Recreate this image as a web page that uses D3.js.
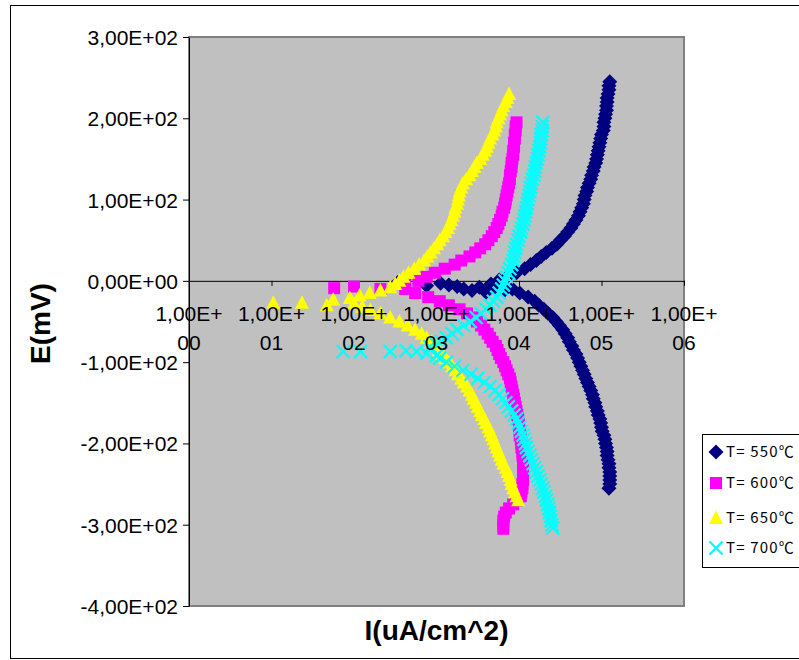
<!DOCTYPE html>
<html>
<head>
<meta charset="utf-8">
<script src="https://cdn.jsdelivr.net/npm/d3@7"></script>
<style>
  body { margin: 0; background: #fff; }
  svg { display: block; }
</style>
</head>
<body>
<svg id="chart" width="799" height="660"></svg>
<script>
// Polarization curves, potential E (mV) vs current density I (uA/cm^2)
const seriesNames = ["T= 550\u2103", "T= 600\u2103", "T= 650\u2103", "T= 700\u2103"];
const yTicks = [-400, -300, -200, -100, 0, 100, 200, 300];
const xTicks = [1, 10, 100, 1e3, 1e4, 1e5, 1e6];

// [E (mV), I (uA/cm^2)]
const points550 = [
  [-2,339],[-6,759],[-3,1122],[-5,1413],[-7,1778],[-10,2138],[-12,2692],[-8,3311],[-14,3981],
  [-4,4571],[-9,5248],[1,5754],[-11,6761],[5,7244],
  [10,9.33e3],[15,1.17e4],[20,1.38e4],[25,1.62e4],[30,1.86e4],[35,2.14e4],[40,2.51e4],[45,2.88e4],
  [50,3.16e4],[55,3.55e4],[60,3.89e4],[65,4.27e4],[70,4.57e4],[75,4.90e4],[80,5.25e4],[85,5.50e4],
  [90,5.75e4],[95,6.03e4],[100,6.17e4],[105,6.31e4],[110,6.61e4],[115,6.76e4],[120,7.08e4],
  [125,7.41e4],[130,7.59e4],[135,7.94e4],[140,8.13e4],[145,8.51e4],[150,8.71e4],[155,8.91e4],
  [160,9.12e4],[165,9.33e4],[170,9.55e4],[175,9.77e4],[180,1.00e5],[185,1.05e5],[190,1.07e5],
  [195,1.07e5],[200,1.10e5],[205,1.12e5],[210,1.15e5],[215,1.15e5],[220,1.17e5],[225,1.17e5],
  [230,1.20e5],[235,1.23e5],[240,1.23e5],[245,1.26e5],
  [-10,8.32e3],[-15,1.02e4],[-20,1.29e4],[-25,1.55e4],[-30,1.74e4],[-35,2.00e4],[-40,2.24e4],
  [-45,2.57e4],[-50,2.82e4],[-55,3.09e4],[-60,3.39e4],[-65,3.63e4],[-70,3.89e4],[-75,4.07e4],
  [-80,4.37e4],[-85,4.57e4],[-90,4.90e4],[-95,5.13e4],[-100,5.37e4],[-105,5.62e4],[-110,5.89e4],
  [-115,6.17e4],[-120,6.46e4],[-125,6.76e4],[-130,7.08e4],[-135,7.41e4],[-140,7.76e4],
  [-145,7.94e4],[-150,8.32e4],[-155,8.51e4],[-160,8.91e4],[-165,9.12e4],[-170,9.55e4],
  [-175,9.77e4],[-180,1.00e5],[-185,1.02e5],[-190,1.07e5],[-195,1.10e5],[-200,1.12e5],
  [-205,1.15e5],[-210,1.17e5],[-215,1.17e5],[-220,1.20e5],[-225,1.23e5],[-230,1.23e5],
  [-235,1.26e5],[-240,1.26e5],[-245,1.26e5],[-250,1.26e5],[-255,1.23e5]
];

const points600 = [
  [-9,57.5],[-7,100],[-10,209],
  [-5,417],[0,603],[5,759],[10,955],[15,1259],[20,1660],[25,1995],[30,2512],[35,2951],[40,3388],
  [45,3890],[50,4266],[55,4677],[60,5012],[65,5370],[70,5623],[75,5888],[80,6166],[85,6310],
  [90,6607],[95,6761],[100,6918],[105,7079],[110,7244],[115,7413],[120,7586],[125,7762],
  [130,7762],[135,7943],[140,8128],[145,8128],[150,8318],[155,8511],[160,8511],[165,8710],
  [170,8710],[175,8913],[180,8913],[185,9120],[190,9120],[195,9333],
  [-10,417],[-15,550],[-20,794],[-25,1096],[-30,1413],[-35,1905],[-40,2344],[-45,2754],
  [-50,3090],[-55,3467],[-60,3802],[-65,4169],[-70,4467],[-75,4786],[-80,5248],[-85,5495],
  [-90,5754],[-95,6026],[-100,6457],[-105,6761],[-110,7079],[-115,7413],[-120,7762],
  [-125,7943],[-130,8128],[-135,8318],[-140,8511],[-145,8710],[-150,8913],[-155,9120],
  [-160,9333],[-165,9550],[-170,9772],[-175,1.00e4],[-180,1.00e4],[-185,1.02e4],[-190,1.02e4],
  [-195,1.05e4],[-200,1.07e4],[-205,1.07e4],[-210,1.10e4],[-215,1.10e4],[-220,1.12e4],
  [-225,1.12e4],[-230,1.12e4],[-235,1.12e4],[-240,1.12e4],[-245,1.12e4],[-250,1.10e4],
  [-255,1.10e4],[-260,1.07e4],[-265,1.05e4],[-270,9550],[-275,8511],[-280,7586],[-285,6918],
  [-290,6607],[-295,6457],[-300,6457],[-305,6457]
];

const points650 = [
  [-27,10.5],[-27,23.4],[-30,46.8],
  [-23,56],[-21,89],[-18,117],[-15,155],[-12,209],[-8,275],[-4,316],[0,355],[5,398],[10,457],
  [15,537],[20,617],[25,708],[30,776],[35,851],[40,933],[45,1023],[50,1096],[55,1202],
  [60,1288],[65,1380],[70,1445],[75,1514],[80,1585],[85,1660],[90,1698],[95,1778],[100,1820],
  [105,1862],[110,1905],[115,1995],[120,2089],[125,2291],[130,2512],[135,2692],[140,2884],
  [145,3090],[150,3388],[155,3631],[160,3890],[165,4074],[170,4266],[175,4467],[180,4786],
  [185,5012],[190,5248],[195,5370],[200,5623],[205,5888],[210,6166],[215,6457],[220,6918],
  [225,7244],[230,7586],
  [-28,100],[-32,126],[-36,158],[-40,209],[-45,275],[-50,355],[-55,447],[-60,550],[-65,661],
  [-70,759],[-75,871],[-80,977],[-85,1072],[-90,1175],[-95,1288],[-100,1413],[-105,1549],
  [-110,1698],[-115,1820],[-120,1995],[-125,2138],[-130,2344],[-135,2512],[-140,2692],
  [-145,2818],[-150,3020],[-155,3162],[-160,3388],[-165,3548],[-170,3802],[-175,3981],
  [-180,4266],[-185,4467],[-190,4677],[-195,4898],[-200,5129],[-205,5370],[-210,5623],
  [-215,5888],[-220,6166],[-225,6457],[-230,6918],[-235,7244],[-240,7586],[-245,7943],
  [-250,8128],[-255,8511],[-260,8913],[-265,9333],[-270,9772]
];

const points700 = [
  [-87,74],[-87,120],[-87,275],[-86,427],[-87,575],[-89,759],[-92,1000],
  [-81,832],[-78,1000],[-75,1148],[-70,1318],[-65,1549],[-60,1778],[-55,2138],[-50,2570],
  [-45,3020],[-40,3467],[-35,3981],[-30,4467],[-25,4898],[-20,5370],[-15,5754],[-10,6166],
  [-5,6457],[0,6761],[5,7079],[10,7413],[15,7762],[20,8128],[25,8511],[30,8710],[35,8913],
  [40,9120],[45,9333],[50,9772],[55,1.00e4],[60,1.05e4],[65,1.07e4],[70,1.12e4],[75,1.15e4],
  [80,1.17e4],[85,1.20e4],[90,1.23e4],[95,1.26e4],[100,1.29e4],[105,1.32e4],[110,1.35e4],
  [115,1.38e4],[120,1.41e4],[125,1.45e4],[130,1.51e4],[135,1.55e4],[140,1.58e4],[145,1.62e4],
  [150,1.66e4],[155,1.70e4],[160,1.74e4],[165,1.78e4],[170,1.82e4],[175,1.82e4],[180,1.86e4],
  [185,1.91e4],[190,1.91e4],[195,1.95e4],
  [-95,1096],[-100,1318],[-105,1660],[-110,2089],[-115,2630],[-120,3162],[-125,3802],
  [-130,4467],[-135,5129],[-140,5754],[-145,6310],[-150,6918],[-155,7413],[-160,8128],
  [-165,8710],[-170,9333],[-175,9772],[-180,1.02e4],[-185,1.07e4],[-190,1.12e4],[-195,1.15e4],
  [-200,1.20e4],[-205,1.23e4],[-210,1.29e4],[-215,1.35e4],[-220,1.41e4],[-225,1.48e4],
  [-230,1.55e4],[-235,1.62e4],[-240,1.70e4],[-245,1.78e4],[-250,1.86e4],[-255,1.95e4],
  [-260,2.00e4],[-265,2.09e4],[-270,2.14e4],[-275,2.24e4],[-280,2.29e4],[-285,2.34e4],
  [-290,2.40e4],[-295,2.45e4],[-300,2.51e4],[-304,2.57e4]
];

const allSeries = [points550, points600, points650, points700];
const colors = ["#000080", "#ff00ff", "#ffff00", "#00ffff"];
const shapes = ["diamond", "square", "triangle", "cross"];

const plot = { left: 189, top: 37, right: 684, bottom: 606 };
const svg = d3.select("#chart");

const x = d3.scaleLog().domain([1, 1e6]).range([plot.left, plot.right]);
const y = d3.scaleLinear().domain([-400, 300]).range([plot.bottom, plot.top]);

// "3,00E+02" style scientific labels
function sci(v) {
  const [m, e] = v.toExponential(2).split("e");
  const sign = e[0] === "-" ? "-" : "+";
  const n = String(Math.abs(+e)).padStart(2, "0");
  return m.replace(".", ",") + "E" + sign + n;
}

// outer chart frame
svg.append("rect")
  .attr("x", 10.5).attr("y", 5.5).attr("width", 820).attr("height", 653)
  .attr("fill", "#fff").attr("stroke", "#000").attr("stroke-width", 1);

// plot area
svg.append("rect")
  .attr("x", plot.left).attr("y", plot.top)
  .attr("width", plot.right - plot.left).attr("height", plot.bottom - plot.top)
  .attr("fill", "#c0c0c0").attr("stroke", "#808080").attr("stroke-width", 2);

// y axis
const yAxis = d3.axisLeft(y).tickValues(yTicks).tickSize(6).tickSizeOuter(0).tickFormat(sci);
const gy = svg.append("g").attr("transform", `translate(${plot.left},0)`).call(yAxis);
gy.select(".domain").attr("stroke", "#000");
gy.selectAll(".tick line").attr("stroke", "#000");
gy.selectAll(".tick text")
  .attr("font-family", "'Liberation Sans', Arial, sans-serif")
  .attr("font-size", 21).attr("fill", "#000").attr("x", -11).attr("dy", "0.36em");

// x axis line at E = 0
const xAxis = d3.axisBottom(x).tickValues(xTicks).tickSize(5).tickSizeOuter(0).tickFormat("");
const gx = svg.append("g").attr("transform", `translate(0,${y(0)})`).call(xAxis);
gx.select(".domain").attr("stroke", "#000");
gx.selectAll(".tick line").attr("stroke", "#000");

// markers
svg.append("clipPath").attr("id", "plotClip")
  .append("rect").attr("x", plot.left).attr("y", plot.top)
  .attr("width", plot.right - plot.left).attr("height", plot.bottom - plot.top);

function markerPath(shape) {
  switch (shape) {
    case "diamond": return "M0,-7.5L7.5,0L0,7.5L-7.5,0Z";
    case "square": return "M-6,-6H6V6H-6Z";
    case "triangle": return "M0,-7.5L7,6L-7,6Z";
    default: return "M-6.5,-6.5L6.5,6.5M-6.5,6.5L6.5,-6.5";
  }
}
function styleMarker(sel, i) {
  if (shapes[i] === "cross") {
    sel.attr("fill", "none").attr("stroke", colors[i]).attr("stroke-width", 2.2);
  } else {
    sel.attr("fill", colors[i]).attr("stroke", "none");
  }
}

const gMarks = svg.append("g").attr("clip-path", "url(#plotClip)");
allSeries.forEach((pts, i) => {
  gMarks.append("g").selectAll("path").data(pts).join("path")
    .attr("d", markerPath(shapes[i]))
    .attr("transform", d => `translate(${x(d[1])},${y(d[0])})`)
    .call(styleMarker, i);
});

// x tick labels, split over two lines
const xl = svg.append("g")
  .attr("font-family", "'Liberation Sans', Arial, sans-serif")
  .attr("font-size", 21).attr("fill", "#000").attr("text-anchor", "middle");
xTicks.forEach(v => {
  const s = sci(v);
  const t = xl.append("text").attr("x", x(v)).attr("y", y(0) + 40);
  t.append("tspan").attr("x", x(v)).text(s.slice(0, 6));
  t.append("tspan").attr("x", x(v)).attr("dy", 29).text(s.slice(6));
});

// axis titles
svg.append("text")
  .attr("transform", `translate(50,${(plot.top + plot.bottom) / 2 + 2}) rotate(-90)`)
  .attr("text-anchor", "middle")
  .attr("font-family", "'Liberation Sans', Arial, sans-serif")
  .attr("font-weight", "bold").attr("font-size", 28)
  .text("E(mV)");
svg.append("text")
  .attr("x", (plot.left + plot.right) / 2).attr("y", 640)
  .attr("text-anchor", "middle")
  .attr("font-family", "'Liberation Sans', Arial, sans-serif")
  .attr("font-weight", "bold").attr("font-size", 28)
  .text("I(uA/cm^2)");

// legend
const lg = svg.append("g").attr("transform", "translate(702,434)");
lg.append("rect").attr("x", 0.5).attr("y", 0.5).attr("width", 130).attr("height", 133)
  .attr("fill", "#fff").attr("stroke", "#000").attr("stroke-width", 1);
const rowY = [18, 49, 84, 114];
seriesNames.forEach((name, i) => {
  const row = lg.append("g").attr("transform", `translate(0,${rowY[i]})`);
  row.append("path").attr("d", markerPath(shapes[i]))
    .attr("transform", "translate(14,0)").call(styleMarker, i);
  row.append("text").attr("x", 24).attr("y", 0).attr("dy", "0.36em")
    .attr("font-family", "'Noto Sans CJK SC', 'Liberation Sans', sans-serif")
    .attr("font-size", 15).attr("letter-spacing", 1.2)
    .text(name);
});
</script>
</body>
</html>
